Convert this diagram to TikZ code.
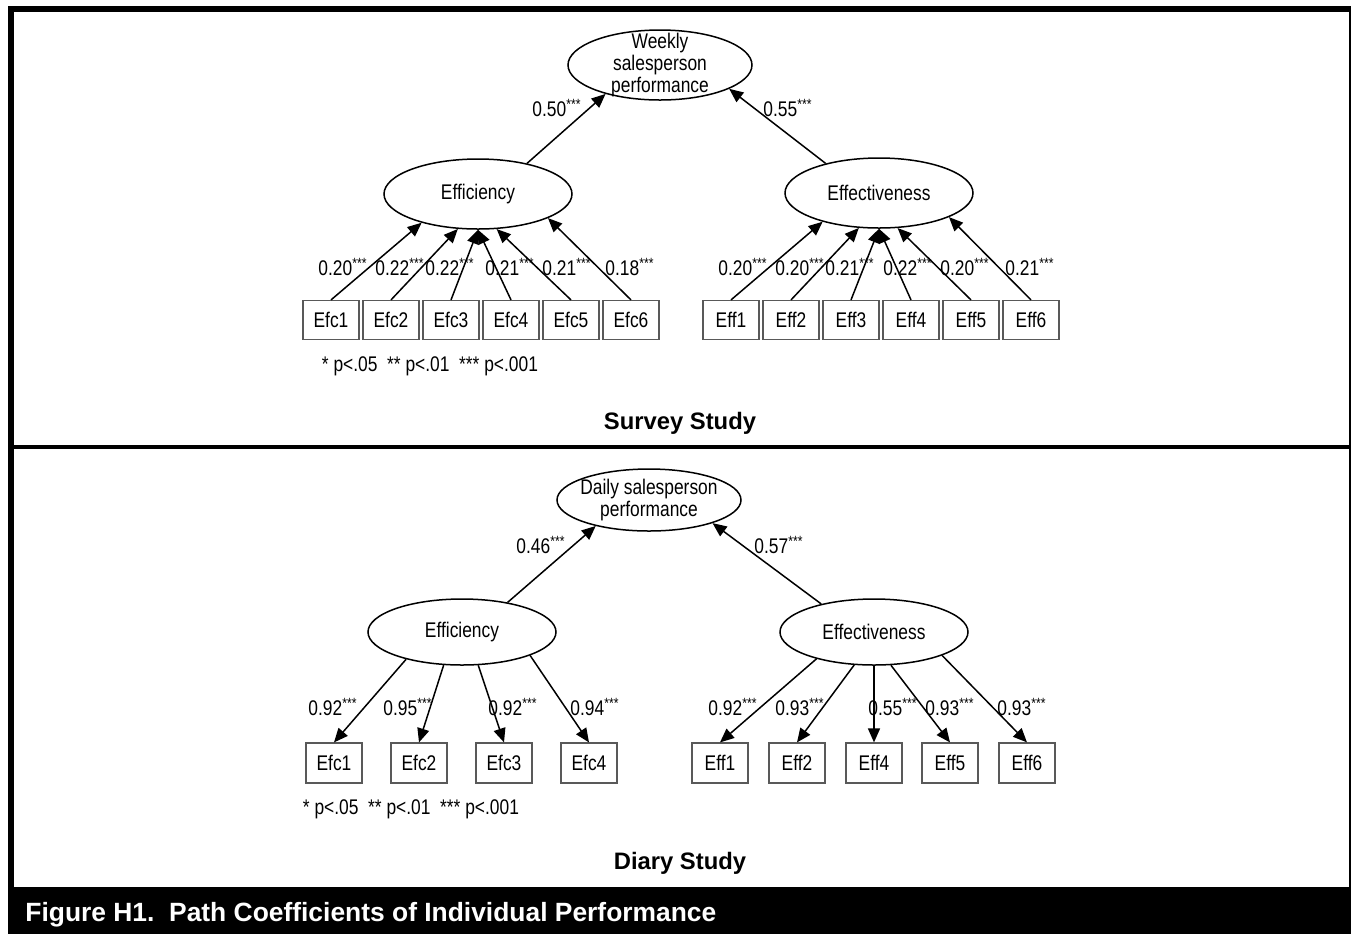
\documentclass[tikz,border=0pt]{standalone}
\usepackage{fontspec}
\setmainfont{Liberation Sans}
\newfontfamily\dgmfamily{Liberation Sans}[FakeStretch=0.82]
\usepackage{tikz}
\usetikzlibrary{shapes.geometric,arrows.meta}
\newcommand\dgm{\dgmfamily\fontsize{10.6}{10.8}\selectfont}
\newcommand\cf[1]{#1\textsuperscript{***}}
\tikzset{
	lv/.style={draw, ellipse, line width=0.75pt, minimum width=94pt, minimum height=35pt, inner sep=0pt, font=\dgm},
	lvtext/.style={font=\dgm, align=center, inner sep=0pt},
	obs/.style={draw=black!65, line width=0.6pt, minimum width=28pt, minimum height=19.5pt, inner sep=0pt, font=\dgm},
	pth/.style={-{Triangle[length=7pt,width=6pt]}, line width=0.75pt},
	coef/.style={font=\dgm, inner sep=0pt},
	study/.style={font=\bfseries\fontsize{11.9}{13}\selectfont, inner sep=0pt}
}
\begin{document}
\begin{tikzpicture}[x=0.5pt,y=-0.5pt]
			%%%%% START %%%%%
			\useasboundingbox (0,0) rectangle (1351,934);
			
			% frame
			\fill (8,6) rectangle (1351,12);
			\fill (8,6) rectangle (14,934);
			\fill (1349,6) rectangle (1351,934);
			\fill (8,445) rectangle (1351,449);
			\fill (8,887) rectangle (1351,934);
			\node[anchor=west, text=white, inner sep=0pt, font=\bfseries\fontsize{13.2}{14}\selectfont] (cap) at (25,915) {Figure H1.\ \ Path Coefficients of Individual Performance};
			
			% survey study
			\node[lv, minimum width=92pt, label={[lvtext]center:Weekly\\salesperson\\performance}] (wsp) at (660,65) {};
			\node[lv] (efcT) at (478,194) {Efficiency};
			\node[lv] (effT) at (879,193) {Effectiveness};
			
			\node[obs] (efc1T) at (331,320) {Efc1};
			\node[obs] (efc2T) at (391,320) {Efc2};
			\node[obs] (efc3T) at (451,320) {Efc3};
			\node[obs] (efc4T) at (511,320) {Efc4};
			\node[obs] (efc5T) at (571,320) {Efc5};
			\node[obs] (efc6T) at (631,320) {Efc6};
			
			\node[obs] (eff1T) at (731,320) {Eff1};
			\node[obs] (eff2T) at (791,320) {Eff2};
			\node[obs] (eff3T) at (851,320) {Eff3};
			\node[obs] (eff4T) at (911,320) {Eff4};
			\node[obs] (eff5T) at (971,320) {Eff5};
			\node[obs] (eff6T) at (1031,320) {Eff6};
			
			\draw[pth] (efcT.32) -- (wsp.208);
			\draw[pth] (effT.151) -- (wsp.341);
			
			\draw[pth] (efc1T.north) -- (efcT.207);
			\draw[pth] (efc2T.north) -- (efcT.240);
			\draw[pth] (efc3T.north) -- (efcT.270);
			\draw[pth] (efc4T.north) -- (efcT.270);
			\draw[pth] (efc5T.north) -- (efcT.298);
			\draw[pth] (efc6T.north) -- (efcT.341);
			
			\draw[pth] (eff1T.north) -- (effT.207);
			\draw[pth] (eff2T.north) -- (effT.240);
			\draw[pth] (eff3T.north) -- (effT.270);
			\draw[pth] (eff4T.north) -- (effT.270);
			\draw[pth] (eff5T.north) -- (effT.298);
			\draw[pth] (eff6T.north) -- (effT.341);
			
			\node[coef] (cwT1) at (557,108) {\cf{0.50}};
			\node[coef] (cwT2) at (788,108) {\cf{0.55}};
			
			\node[coef] (cT1) at (343,267) {\cf{0.20}};
			\node[coef] (cT2) at (400,267) {\cf{0.22}};
			\node[coef] (cT3) at (450,267) {\cf{0.22}};
			\node[coef] (cT4) at (510,267) {\cf{0.21}};
			\node[coef] (cT5) at (567,267) {\cf{0.21}};
			\node[coef] (cT6) at (630,267) {\cf{0.18}};
			
			\node[coef] (cT7) at (743,267) {\cf{0.20}};
			\node[coef] (cT8) at (800,267) {\cf{0.20}};
			\node[coef] (cT9) at (850,267) {\cf{0.21}};
			\node[coef] (cT10) at (908,267) {\cf{0.22}};
			\node[coef] (cT11) at (965,267) {\cf{0.20}};
			\node[coef] (cT12) at (1030,267) {\cf{0.21}};
			
			\node[coef] (sigT) at (430,366) {* p<.05\ \ ** p<.01\ \ *** p<.001};
			\node[study] (survey) at (680,423) {Survey Study};
			
			% diary study
			\node[lv, minimum width=92pt, minimum height=31pt, label={[lvtext]center:Daily salesperson\\performance}] (dsp) at (649,500) {};
			\node[lv, minimum height=33pt] (efcB) at (462,632) {Efficiency};
			\node[lv, minimum height=33pt] (effB) at (874,632) {Effectiveness};
			
			\node[obs, minimum height=20pt] (efc1B) at (334,763) {Efc1};
			\node[obs, minimum height=20pt] (efc2B) at (419,763) {Efc2};
			\node[obs, minimum height=20pt] (efc3B) at (504,763) {Efc3};
			\node[obs, minimum height=20pt] (efc4B) at (589,763) {Efc4};
			
			\node[obs, minimum height=20pt] (eff1B) at (720,763) {Eff1};
			\node[obs, minimum height=20pt] (eff2B) at (797,763) {Eff2};
			\node[obs, minimum height=20pt] (eff4B) at (874,763) {Eff4};
			\node[obs, minimum height=20pt] (eff5B) at (950,763) {Eff5};
			\node[obs, minimum height=20pt] (eff6B) at (1027,763) {Eff6};
			
			\draw[pth] (efcB.33) -- (dsp.206);
			\draw[pth] (effB.152) -- (dsp.340);
			
			\draw[pth] (efcB.206) -- (efc1B.north);
			\draw[pth] (efcB.241) -- (efc2B.north);
			\draw[pth] (efcB.296) -- (efc3B.north);
			\draw[pth] (efcB.341) -- (efc4B.north);
			
			\draw[pth] (effB.205) -- (eff1B.north);
			\draw[pth] (effB.239) -- (eff2B.north);
			\draw[pth] (effB.270) -- (eff4B.north);
			\draw[pth] (effB.297) -- (eff5B.north);
			\draw[pth] (effB.341) -- (eff6B.north);
			
			\node[coef] (cwB1) at (541,545) {\cf{0.46}};
			\node[coef] (cwB2) at (779,545) {\cf{0.57}};
			
			\node[coef] (cB1) at (333,707) {\cf{0.92}};
			\node[coef] (cB2) at (408,707) {\cf{0.95}};
			\node[coef] (cB3) at (513,707) {\cf{0.92}};
			\node[coef] (cB4) at (595,707) {\cf{0.94}};
			
			\node[coef] (cB5) at (733,707) {\cf{0.92}};
			\node[coef] (cB6) at (800,707) {\cf{0.93}};
			\node[coef] (cB7) at (893,707) {\cf{0.55}};
			\node[coef] (cB8) at (950,707) {\cf{0.93}};
			\node[coef] (cB9) at (1022,707) {\cf{0.93}};
			
			\node[coef] (sigB) at (411,809) {* p<.05\ \ ** p<.01\ \ *** p<.001};
			\node[study] (diary) at (680,863) {Diary Study};
			%%%%% END %%%%%
\end{tikzpicture}
\end{document}
